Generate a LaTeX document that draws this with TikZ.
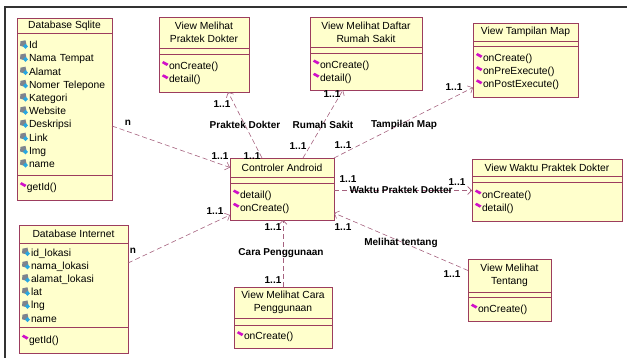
\documentclass[tikz,border=0pt]{standalone}
\usepackage{fontspec}
\setmainfont{Liberation Sans}
\usetikzlibrary{arrows.meta,positioning}
\definecolor{Border}{HTML}{9C3D5E}
\definecolor{Fill}{HTML}{FFFFCC}
\definecolor{Link}{HTML}{A5617E}
\definecolor{Meth}{HTML}{D010C8}
\definecolor{AttrA}{HTML}{7E848E}
\definecolor{AttrB}{HTML}{28A8E0}

% small UML icons
\newcommand{\attrico}{\tikz[baseline=0pt]{
  \fill[AttrA] (1pt,7.5pt) -- (6pt,8.5pt) -- (7pt,4pt) -- (4pt,2pt) -- (0.5pt,3pt) -- cycle;
  \fill[AttrB] (3.5pt,2.5pt) -- (6pt,5pt) -- (8.5pt,2.5pt) -- (6pt,0pt) -- cycle;
  \path (0pt,0pt) -- (9.5pt,0pt);}}
\newcommand{\methico}{\tikz[baseline=0pt]{
  \fill[Meth] (0.3pt,6.5pt) -- (2pt,8.5pt) -- (7pt,5.8pt) -- (5.3pt,3.6pt) -- cycle;
  \path (0pt,0pt) -- (7.5pt,0pt);}}

\begin{document}
\begin{tikzpicture}[
  x=1pt, y=-1pt,
  font=\fontsize{10.3}{13.2}\selectfont,
  head/.style={draw=Border, fill=Fill, line width=0.8pt, inner sep=0pt,
               outer sep=0pt, align=center, anchor=north west},
  part/.style={draw=Border, fill=Fill, line width=0.8pt, inner xsep=2.5pt,
               inner ysep=0pt, outer sep=0pt, align=left},
  mult/.style={font=\fontsize{10}{12}\selectfont\bfseries, inner sep=0pt},
  dep/.style={draw=Link, line width=0.6pt, dash pattern=on 5pt off 3pt,
              -{Straight Barb[length=4pt,width=8pt]}}
]
  \useasboundingbox (0,0) rectangle (627,358);
  \draw[line width=1.2pt, black!80] (627,7) -- (5,7) -- (5,358);

  % Database Sqlite
  \node[head, minimum width=95pt, minimum height=15pt] (sqlT) at (17,18) {Database Sqlite};
  \node[part, minimum width=95pt, text width=90pt, minimum height=142pt, below=0pt of sqlT] (sqlA)
    {\attrico Id\\\attrico Nama Tempat\\\attrico Alamat\\\attrico Nomer Telepone\\\attrico Kategori\\
     \attrico Website\\\attrico Deskripsi\\\attrico Link\\\attrico Img\\\attrico name};
  \node[part, minimum width=95pt, text width=90pt, minimum height=25pt, below=0pt of sqlA] (sqlM)
    {\methico getId()};

  % Database Internet
  \node[head, minimum width=109pt, minimum height=18pt] (netT) at (19,225) {Database Internet};
  \node[part, minimum width=109pt, text width=104pt, minimum height=84pt, below=0pt of netT] (netA)
    {\attrico id\_lokasi\\\attrico nama\_lokasi\\\attrico alamat\_lokasi\\\attrico lat\\\attrico lng\\\attrico name};
  \node[part, minimum width=109pt, text width=104pt, minimum height=26pt, below=0pt of netA] (netM)
    {\methico getId()};

  % View Melihat Praktek Dokter
  \node[head, minimum width=90pt, minimum height=31pt] (prkT) at (159,17) {View Melihat\\Praktek Dokter};
  \node[part, minimum width=90pt, text width=85pt, minimum height=6pt, below=0pt of prkT] (prkE) {};
  \node[part, minimum width=90pt, text width=85pt, minimum height=38pt, below=0pt of prkE] (prkM)
    {\methico onCreate()\\\methico detail()};

  % View Melihat Daftar Rumah Sakit
  \node[head, minimum width=112pt, minimum height=30pt] (rsT) at (310,17) {View Melihat Daftar\\Rumah Sakit};
  \node[part, minimum width=112pt, text width=107pt, minimum height=6pt, below=0pt of rsT] (rsE) {};
  \node[part, minimum width=112pt, text width=107pt, minimum height=37pt, below=0pt of rsE] (rsM)
    {\methico onCreate()\\\methico detail()};

  % View Tampilan Map
  \node[head, minimum width=105pt, minimum height=18pt] (mapT) at (473,23) {View Tampilan Map};
  \node[part, minimum width=105pt, text width=100pt, minimum height=5pt, below=0pt of mapT] (mapE) {};
  \node[part, minimum width=105pt, text width=100pt, minimum height=51pt, below=0pt of mapE] (mapM)
    {\methico onCreate()\\\methico onPreExecute()\\\methico onPostExecute()};

  % Controler Android
  \node[head, minimum width=104pt, minimum height=19pt] (ctlT) at (230,158) {Controler Android};
  \node[part, minimum width=104pt, text width=99pt, minimum height=6pt, below=0pt of ctlT] (ctlE) {};
  \node[part, minimum width=104pt, text width=99pt, minimum height=37pt, below=0pt of ctlE] (ctlM)
    {\methico detail()\\\methico onCreate()};

  % View Waktu Praktek Dokter
  \node[head, minimum width=150pt, minimum height=17pt] (wktT) at (472,159) {View Waktu Praktek Dokter};
  \node[part, minimum width=150pt, text width=145pt, minimum height=6pt, below=0pt of wktT] (wktE) {};
  \node[part, minimum width=150pt, text width=145pt, minimum height=39pt, below=0pt of wktE] (wktM)
    {\methico onCreate()\\\methico detail()};

  % View Melihat Tentang
  \node[head, minimum width=83pt, minimum height=33pt] (ttgT) at (468,259) {View Melihat\\Tentang};
  \node[part, minimum width=83pt, text width=78pt, minimum height=5pt, below=0pt of ttgT] (ttgE) {};
  \node[part, minimum width=83pt, text width=78pt, minimum height=24pt, below=0pt of ttgE] (ttgM)
    {\methico onCreate()};

  % View Melihat Cara Penggunaan
  \node[head, minimum width=98pt, minimum height=31pt] (caraT) at (234,287) {View Melihat Cara\\Penggunaan};
  \node[part, minimum width=98pt, text width=93pt, minimum height=7pt, below=0pt of caraT] (caraE) {};
  \node[part, minimum width=98pt, text width=93pt, minimum height=23pt, below=0pt of caraE] (caraM)
    {\methico onCreate()};

  % dependencies
  \draw[dep] ([yshift=-22pt]sqlA.east) -- (ctlT.west);
  \draw[dep] ([yshift=22pt]netA.east) -- ([yshift=5pt]ctlM.south west);
  \draw[dep] ([xshift=-20pt]ctlT.north) -- ([xshift=24pt]prkM.south);
  \draw[dep] ([xshift=21pt]ctlT.north) -- ([xshift=-23pt]rsM.south);
  \draw[dep] (ctlT.north east) -- ([yshift=-16pt]mapM.west);
  \draw[dep] ([yshift=11pt]ctlM.east) -- ([yshift=11pt]wktM.west);
  \draw[dep] ([yshift=5pt]ttgT.west) -- ([yshift=7pt]ctlM.south east);
  \draw[dep] (caraT.north) -- (caraT.north |- ctlM.south);

  % labels
  \node[mult] (nSql) at (128,123) {n};
  \node[mult] (nNet) at (133,251) {n};
  \node[mult] (mSql) at (220,156) {1..1};
  \node[mult] (mNet) at (215,211) {1..1};
  \node[mult] (mPrkA) at (252,156) {1..1};
  \node[mult] (mPrkB) at (222,104) {1..1};
  \node[mult] (mRsA) at (298,146) {1..1};
  \node[mult] (mRsB) at (332,94) {1..1};
  \node[mult] (mMapA) at (343,145) {1..1};
  \node[mult] (mMapB) at (454,87) {1..1};
  \node[mult] (mWktA) at (348,179) {1..1};
  \node[mult] (mWktB) at (457,182) {1..1};
  \node[mult] (mTtgA) at (343,227) {1..1};
  \node[mult] (mTtgB) at (452,274) {1..1};
  \node[mult] (mCaraA) at (273,227) {1..1};
  \node[mult] (mCaraB) at (273,280) {1..1};

  \node[mult] (lPrk) at (245,125) {Praktek Dokter};
  \node[mult] (lRs) at (323,125) {Rumah Sakit};
  \node[mult] (lMap) at (404,125) {Tampilan Map};
  \node[mult] (lWkt) at (401,190) {Waktu Praktek Dokter};
  \node[mult] (lTtg) at (401,243) {Melihat tentang};
  \node[mult] (lCara) at (281,253) {Cara Penggunaan};
\end{tikzpicture}
\end{document}
